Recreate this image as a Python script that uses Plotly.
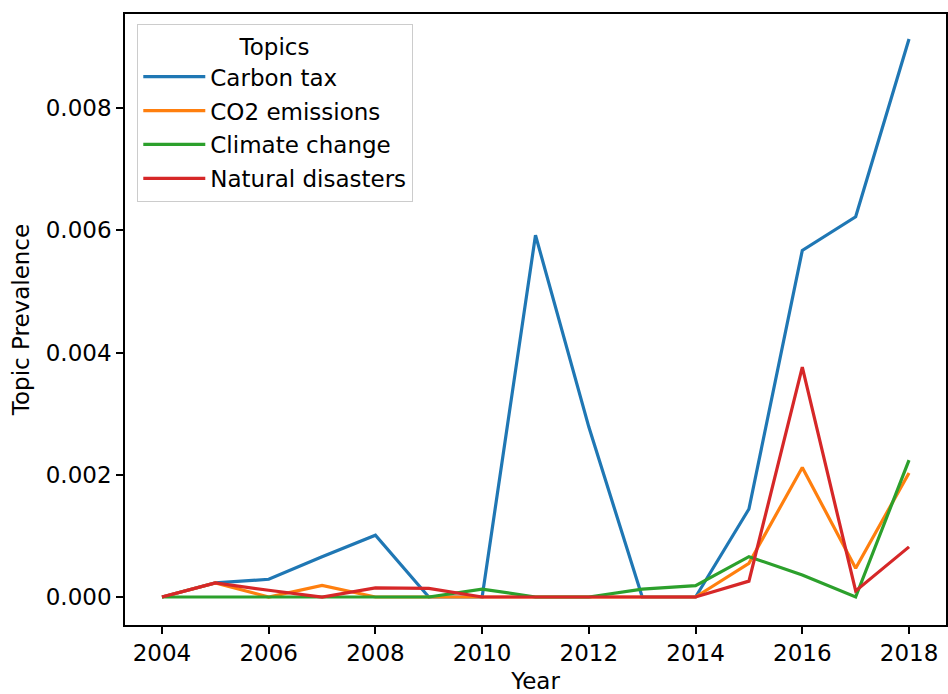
import plotly.graph_objects as go

years = list(range(2004, 2019))

carbon_tax = [0.0, 0.00023, 0.00029, 0.00066, 0.00101, 0.0, 0.0, 0.00592,
              0.00278, 0.0, 0.0, 0.00144, 0.00567, 0.00622, 0.00913]
co2_emissions = [0.0, 0.00023, 0.0, 0.00019, 0.0, 0.0, 0.0, 0.0,
                 0.0, 0.0, 0.0, 0.00055, 0.00212, 0.00047, 0.00203]
climate_change = [0.0, 0.0, 0.0, 0.0, 0.0, 0.0, 0.00013, 0.0,
                  0.0, 0.00013, 0.000185, 0.00066, 0.00036, 0.0, 0.00224]
natural_disasters = [0.0, 0.00023, 0.00011, 0.0, 0.00015, 0.00014, 0.0, 0.0,
                     0.0, 0.0, 0.0, 0.00026, 0.00376, 0.0001, 0.00082]

series = [
    ("Carbon tax", carbon_tax, "#1f77b4"),
    ("CO2 emissions", co2_emissions, "#ff7f0e"),
    ("Climate change", climate_change, "#2ca02c"),
    ("Natural disasters", natural_disasters, "#d62728"),
]

FONT = "DejaVu Sans"
FS = 23

fig = go.Figure()
for i, (name, vals, color) in enumerate(series):
    fig.add_trace(go.Scatter(
        x=years, y=vals, name=name, mode="lines",
        line=dict(color=color, width=3.2),
        legendgroup=f"g{i}",
    ))

axis_common = dict(
    showline=True, linecolor="black", linewidth=1.6, mirror=True,
    ticks="outside", ticklen=7, tickwidth=1.6, tickcolor="black",
    showgrid=False, zeroline=False, automargin=False,
    tickfont=dict(family=FONT, size=FS, color="black"),
    title_font=dict(family=FONT, size=FS, color="black"),
)

fig.update_layout(
    width=948, height=694,
    margin=dict(l=125, r=2, t=14, b=69),
    paper_bgcolor="white", plot_bgcolor="white",
    font=dict(family=FONT, size=FS, color="black"),
    xaxis=dict(range=[2003.307, 2018.693], tickmode="array",
               tickvals=list(range(2004, 2019, 2)),
               title=dict(text="Year", standoff=13), **axis_common),
    yaxis=dict(range=[-0.000458, 0.009538], tickmode="array",
               tickvals=[0.0, 0.002, 0.004, 0.006, 0.008],
               ticktext=["0.000", "0.002", "0.004", "0.006", "0.008"],
               title=dict(text="Topic Prevalence", standoff=10), **axis_common),
    legend=dict(
        x=0.0146, y=0.9836, xanchor="left", yanchor="top",
        bgcolor="rgba(255,255,255,0.8)", bordercolor="#cccccc", borderwidth=1.3,
        title=dict(text="Topics", side="top center",
                   font=dict(family=FONT, size=FS, color="black")),
        font=dict(family=FONT, size=FS, color="black"),
        itemwidth=62,
        tracegroupgap=1,
    ),
    showlegend=True,
)

fig.write_html("out.html")
